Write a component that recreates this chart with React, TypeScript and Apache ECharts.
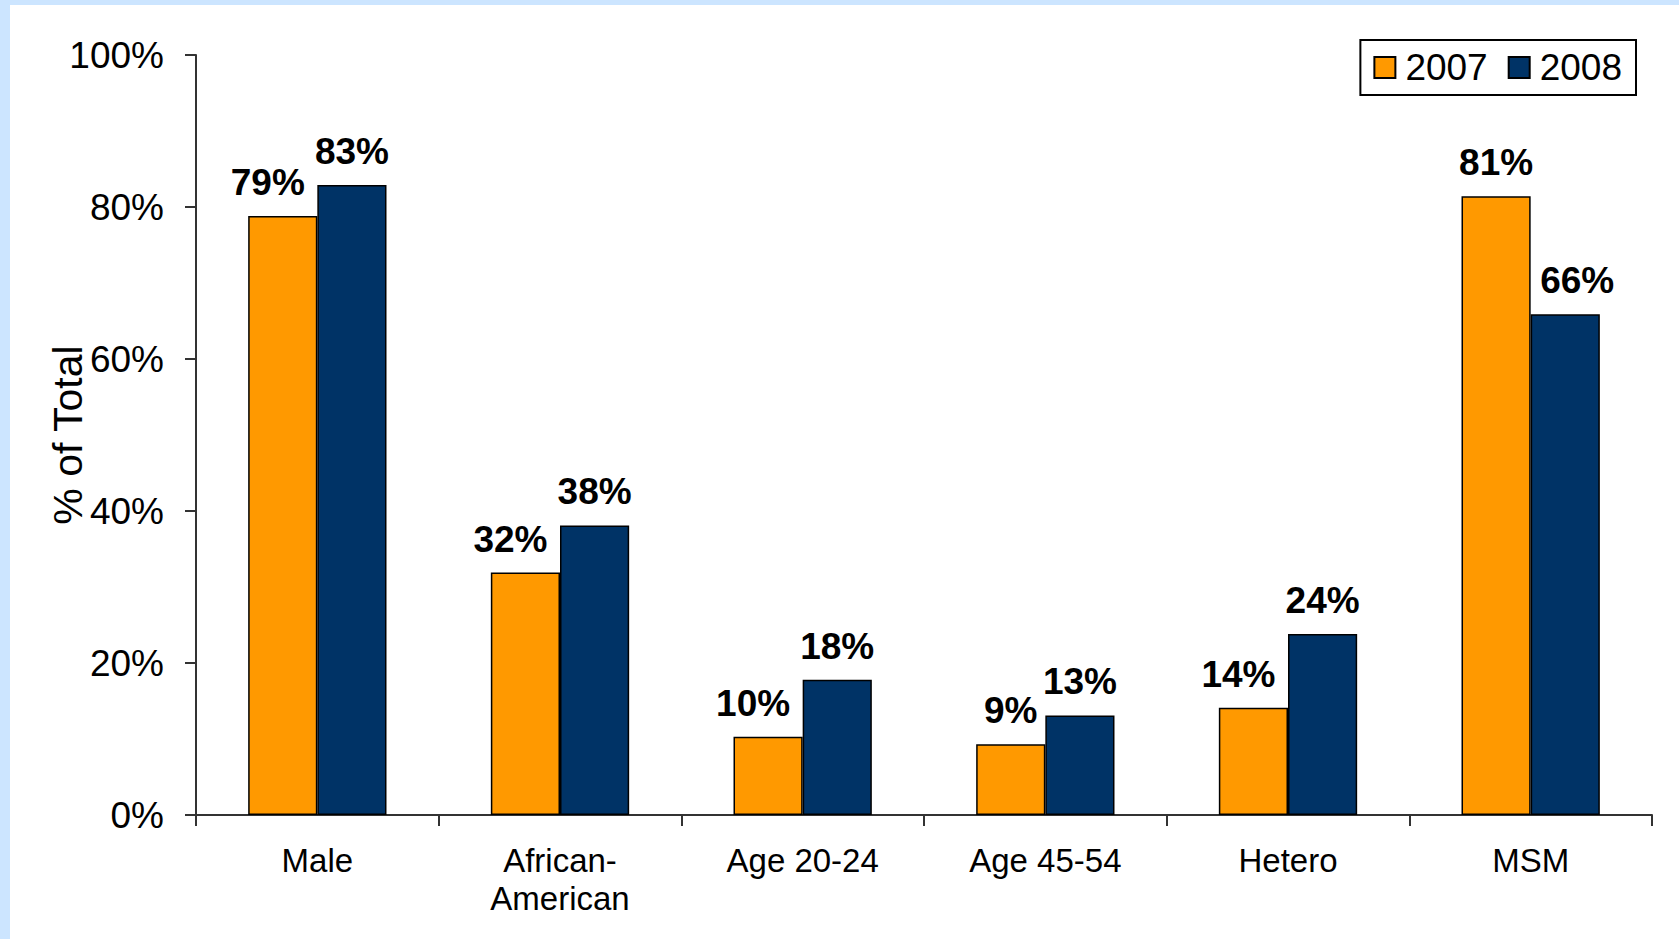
import React, { useEffect, useRef } from "react";
import * as echarts from "echarts";

const categories = ["Male", "African-\nAmerican", "Age 20-24", "Age 45-54", "Hetero", "MSM"];
const series2007 = [78.8, 31.9, 10.3, 9.3, 14.1, 81.4];
const series2008 = [82.9, 38.1, 17.8, 13.1, 23.8, 65.9];
const seriesNames = ["2007", "2008"];
const yTicks = [0, 20, 40, 60, 80, 100];

const FONT = "Liberation Sans, Arial, sans-serif";

export default function App() {
  const ref = useRef<HTMLDivElement>(null);
  useEffect(() => {
    document.body.style.margin = "0";
    if (!ref.current) return;
    const chart = echarts.init(ref.current, undefined, { renderer: "svg" });

    const labelOffset = (own: number[], other: number[], dir: number, amt: number) =>
      own.map((v, i) => {
        const lower = v < other[i] && Math.round(v) >= 10;
        return {
          value: v,
          label: { offset: [lower ? dir * amt : 0, 0] },
        };
      });

    const barLabel = {
      show: true,
      position: "top",
      distance: 15,
      formatter: (p: any) => Math.round(p.value) + "%",
      fontFamily: FONT,
      fontSize: 37,
      fontWeight: "bold",
      color: "#000",
    };

    chart.setOption({
      animation: false,
      backgroundColor: "#ffffff",
      textStyle: { fontFamily: FONT },
      graphic: [
        { type: "rect", shape: { x: 0, y: 0, width: 1679, height: 5 }, style: { fill: "#CCE5FF" }, z: -10 },
        { type: "rect", shape: { x: 0, y: 0, width: 10, height: 939 }, style: { fill: "#CCE5FF" }, z: -10 },
      ],
      legend: {
        data: seriesNames,
        right: 43,
        top: 40,
        orient: "horizontal",
        backgroundColor: "#fff",
        borderColor: "#000",
        borderWidth: 2,
        borderRadius: 0,
        padding: [9, 14, 9, 13],
        itemWidth: 21,
        itemHeight: 21,
        itemGap: 20,
        icon: "rect",
        textStyle: { fontFamily: FONT, fontSize: 37, color: "#000", padding: [0, 0, 0, 5] },
      },
      grid: { left: 196, right: 27, top: 55, bottom: 124, containLabel: false },
      xAxis: {
        type: "category",
        data: categories,
        axisLine: { show: true, lineStyle: { color: "#333", width: 2 } },
        axisTick: { show: true, length: 11, lineStyle: { color: "#333", width: 2 } },
        axisLabel: {
          fontFamily: FONT,
          fontSize: 33,
          lineHeight: 38,
          color: "#000",
          margin: 26,
          interval: 0,
        },
      },
      yAxis: {
        type: "value",
        min: yTicks[0],
        max: yTicks[yTicks.length - 1],
        interval: 20,
        name: "% of Total",
        nameLocation: "middle",
        nameGap: 108,
        nameMoveOverlap: false,
        nameTextStyle: { fontFamily: FONT, fontSize: 41, color: "#000" },
        axisLine: { show: true, lineStyle: { color: "#333", width: 2 } },
        axisTick: { show: true, length: 11, lineStyle: { color: "#333", width: 2 } },
        splitLine: { show: false },
        axisLabel: {
          formatter: "{value}%",
          fontFamily: FONT,
          fontSize: 37,
          color: "#000",
          margin: 32,
        },
      },
      series: [
        {
          name: seriesNames[0],
          type: "bar",
          data: labelOffset(series2007, series2008, -1, 15),
          barGap: "0%",
          barCategoryGap: "43%",
          itemStyle: { color: "#FF9900", borderColor: "#000", borderWidth: 1.5 },
          label: barLabel,
        },
        {
          name: seriesNames[1],
          type: "bar",
          data: labelOffset(series2008, series2007, 1, 12),
          barGap: "0%",
          barCategoryGap: "43%",
          itemStyle: { color: "#003366", borderColor: "#000", borderWidth: 1.5 },
          label: barLabel,
        },
      ],
    });
    return () => chart.dispose();
  }, []);
  return <div ref={ref} style={{ width: 1679, height: 939 }} />;
}
